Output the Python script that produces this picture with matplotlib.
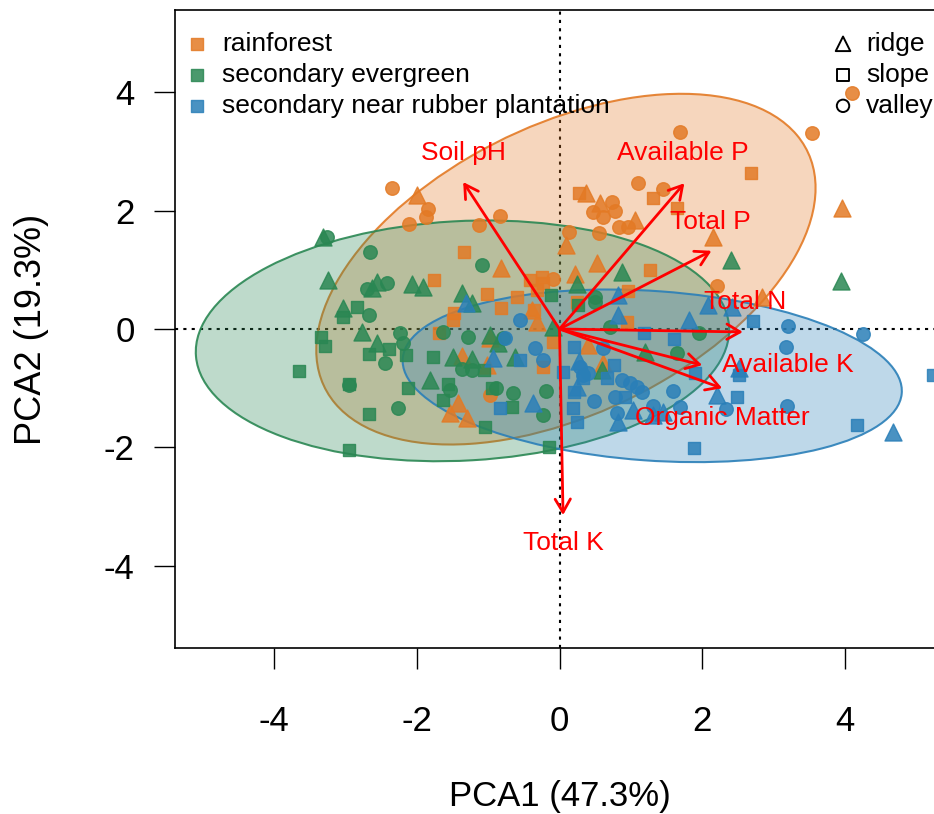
import matplotlib
matplotlib.use("Agg")
import matplotlib.pyplot as plt
from matplotlib.patches import Ellipse

plt.rcParams['font.family'] = ['Liberation Sans', 'DejaVu Sans']

# ---------------- data ----------------
groups = ['rainforest', 'secondary evergreen', 'secondary near rubber plantation']
group_colors = ['#E37A25', '#2A8753', '#2A7FB8']
sites = ['ridge', 'slope', 'valley']

# rainforest scores (PCA1, PCA2)
rf_ridge_pc1 = [-2.0, -0.82, 0.09, 0.37, 0.57, 1.06, 0.53, 0.22, -0.39, -0.32, 2.15, 3.96, 2.84,
                -1.37, -1.02, -1.42, -1.53, -1.30, -0.97, 0.40, 0.61]
rf_ridge_pc2 = [2.26, 1.03, 1.42, 2.30, 2.13, 1.84, 1.11, 0.93, 0.32, 0.12, 1.55, 2.04, 0.54,
                -0.46, -0.61, -1.25, -1.42, -1.50, -0.15, -0.27, -0.57]
rf_slope_pc1 = [0.27, 1.31, 1.65, 2.68, 1.27, 0.96, -0.24, -1.34, -1.76, -1.02, -0.60, -0.82,
                -1.48, -0.23, -0.32, -1.49, -0.42, 0.25, -0.36, 0.95, -1.69, -0.09, -0.23]
rf_slope_pc2 = [2.30, 2.21, 2.04, 2.63, 0.99, 0.64, 0.88, 1.30, 0.83, 0.59, 0.54, 0.35,
                0.27, 0.78, 0.66, 0.15, 0.83, 0.46, 0.32, 0.12, -0.07, -0.22, -0.64]
rf_valley_pc1 = [1.69, 3.54, 4.10, -2.35, -1.84, -1.87, -2.11, -1.13, -0.83, 0.13, -0.09, 1.10,
                 0.74, 0.78, 0.47, 0.61, 0.55, 0.83, 0.96, 1.45, 2.21, -0.97]
rf_valley_pc2 = [3.32, 3.31, 3.98, 2.38, 2.02, 1.89, 1.77, 1.76, 1.91, 1.64, 0.84, 2.46,
                 2.14, 1.99, 1.98, 1.89, 1.62, 1.72, 1.72, 2.36, 0.73, -1.11]

# secondary evergreen scores
se_ridge_pc1 = [-3.31, -3.24, -3.03, -2.77, -2.56, -2.56, -2.63, -2.07, -1.91, -1.37, -1.23, 0.25,
                0.88, 2.40, 3.95, -1.81, -1.49, -1.23, -0.97, -0.86, -0.62, -0.09, 1.20, 0.60]
se_ridge_pc2 = [1.56, 0.83, 0.35, -0.05, -0.24, 0.79, 0.69, 0.76, 0.71, 0.61, 0.44, 0.76,
                0.96, 1.16, 0.81, -0.86, -0.47, -0.51, -0.10, -0.24, -0.47, 0.03, -0.39, -0.69]
se_slope_pc1 = [-2.84, -3.03, -3.34, -3.29, -3.65, -2.95, -2.67, -2.67, -2.95, -2.39, -2.15, -2.12,
                -1.78, -1.56, -1.63, -1.04, -0.15, -1.06, -0.95, -0.12, 0.26, -0.67]
se_slope_pc2 = [0.37, 0.20, -0.14, -0.29, -0.71, -0.93, -0.42, -1.43, -2.04, -0.34, -0.44, -1.00,
                -0.47, -0.93, -1.20, -1.65, -1.99, -0.69, -1.00, 0.57, 0.41, -1.32]
se_valley_pc1 = [-3.26, -2.66, -2.70, -2.42, -2.67, -2.45, -2.95, -1.09, 0.50, -2.24, -2.19, -2.26,
                 -1.63, -1.28, -1.37, -1.23, -0.89, -0.65, -0.19, -0.23, -1.53, -0.79, 0.71,
                 1.65, 1.95, 0.50]
se_valley_pc2 = [1.56, 1.30, 0.67, 0.78, 0.24, -0.57, -0.95, 1.08, 0.54, -0.07, -0.24, -1.33,
                 -0.05, -0.13, -0.68, -0.69, -1.00, -1.08, -1.05, -1.45, -1.03, -0.15, 0.03,
                 -0.41, -0.07, 0.46]

# secondary near rubber plantation scores
sr_ridge_pc1 = [4.67, 2.52, 2.21, 1.81, 2.08, 2.42, 0.82, 0.82, -1.31, 0.28, 0.25, -0.93,
                -0.37, 1.03, 0.82, 1.31, 1.45]
sr_ridge_pc2 = [-1.74, -0.66, -1.11, 0.15, 0.41, 0.37, 0.24, 0.57, 0.44, -0.54, -0.98, -0.49,
                -1.25, -1.37, -1.57, -1.45, -1.40]
sr_slope_pc1 = [5.23, 2.71, 1.90, 2.49, 4.17, 1.89, 1.61, 1.19, 0.21, 0.77, 0.05, 0.66, 0.20,
                0.19, 0.25, 0.92, 2.52, -0.83, -0.55, 0.33]
sr_slope_pc2 = [-0.78, 0.14, -0.74, -1.14, -1.62, -2.01, -0.17, -0.07, -0.31, -0.61, -0.73, -0.83,
                -1.07, -1.33, -1.57, -1.15, -0.78, -1.33, -0.52, -0.83]
sr_valley_pc1 = [3.21, 4.25, 3.17, 3.19, 2.33, 1.59, 1.69, 0.88, 0.99, 1.08, 1.16, 0.78, 0.48,
                 1.31, 0.81, 0.61, -0.23, -0.76, -0.34, 0.33, 0.29, -0.55, 0.40]
sr_valley_pc2 = [0.05, -0.08, -0.30, -1.30, -1.35, -1.05, -1.32, -0.86, -0.91, -0.98, -1.06, -1.14,
                 -1.22, -1.30, -1.41, -0.32, -0.52, -0.15, -0.32, -0.78, -0.64, 0.15, -0.74]

scores = {
    'rainforest': {'ridge': (rf_ridge_pc1, rf_ridge_pc2),
                   'slope': (rf_slope_pc1, rf_slope_pc2),
                   'valley': (rf_valley_pc1, rf_valley_pc2)},
    'secondary evergreen': {'ridge': (se_ridge_pc1, se_ridge_pc2),
                            'slope': (se_slope_pc1, se_slope_pc2),
                            'valley': (se_valley_pc1, se_valley_pc2)},
    'secondary near rubber plantation': {'ridge': (sr_ridge_pc1, sr_ridge_pc2),
                                         'slope': (sr_slope_pc1, sr_slope_pc2),
                                         'valley': (sr_valley_pc1, sr_valley_pc2)},
}

# confidence ellipses per group: centre, full axes lengths, rotation (deg)
ell_cx = [0.09, -1.36, 1.30]
ell_cy = [1.01, -0.20, -0.79]
ell_width = [7.90, 7.49, 7.02]
ell_height = [4.65, 4.04, 2.86]
ell_angle = [35, 4, -5]

# variable loadings (arrow tips) and their label positions
variables = ['Soil pH', 'Available P', 'Total P', 'Total N', 'Available K', 'Organic Matter', 'Total K']
load_pc1 = [-1.35, 1.75, 2.13, 2.57, 2.00, 2.28, 0.05]
load_pc2 = [2.48, 2.46, 1.32, -0.05, -0.61, -1.00, -3.14]
label_pc1 = [-1.34, 1.73, 2.11, 2.60, 3.20, 2.28, 0.05]
label_pc2 = [2.97, 2.97, 1.81, 0.46, -0.61, -1.50, -3.61]

xticks = [-4, -2, 0, 2, 4]
yticks = [-4, -2, 0, 2, 4]

# ---------------- figure ----------------
site_marker = {'ridge': '^', 'slope': 's', 'valley': 'o'}
site_size = {'ridge': 150, 'slope': 85, 'valley': 95}

fig = plt.figure(figsize=(9.34, 8.14), dpi=100)
ax = fig.add_axes([175 / 934, 1 - 648 / 814, 769 / 934, 638 / 814])
ax.set_xlim(-5.39, 5.39)
ax.set_ylim(-5.384, 5.384)

ax.axhline(0, color='black', linestyle=(0, (1.5, 2.5)), linewidth=1.5, zorder=1)
ax.axvline(0, color='black', linestyle=(0, (1.5, 2.5)), linewidth=1.5, zorder=1)

for i, g in enumerate(groups):
    c = group_colors[i]
    ax.add_patch(Ellipse((ell_cx[i], ell_cy[i]), ell_width[i], ell_height[i], angle=ell_angle[i],
                         facecolor=c, alpha=0.3, edgecolor='none', zorder=2))
    ax.add_patch(Ellipse((ell_cx[i], ell_cy[i]), ell_width[i], ell_height[i], angle=ell_angle[i],
                         facecolor='none', edgecolor=c, linewidth=1.5, alpha=0.9, zorder=2))

for i, g in enumerate(groups):
    c = group_colors[i]
    for s in sites:
        px, py = scores[g][s]
        ax.scatter(px, py, marker=site_marker[s], s=site_size[s], color=c, alpha=0.85,
                   edgecolors=c, linewidths=1.0, zorder=3)

for name, x1, y1, lx, ly in zip(variables, load_pc1, load_pc2, label_pc1, label_pc2):
    ax.annotate('', xy=(x1, y1), xytext=(0, 0),
                arrowprops=dict(arrowstyle='->,head_length=0.95,head_width=0.55',
                                color='red', linewidth=2.0, shrinkA=0, shrinkB=0,
                                mutation_scale=10),
                zorder=4)
    ax.text(lx, ly, name, color='red', fontsize=19, ha='center', va='center', zorder=5)

# group legend (filled squares)
leg_rows = [0.9470, 0.8984, 0.8498]
for i, g in enumerate(groups):
    ax.scatter([0.0286], [leg_rows[i]], transform=ax.transAxes, marker='s', s=75,
               color=group_colors[i], alpha=0.85, edgecolors=group_colors[i],
               linewidths=1.0, clip_on=False, zorder=6)
    ax.text(0.0611, leg_rows[i], g, transform=ax.transAxes, fontsize=19,
            ha='left', va='center', zorder=6)

# site legend (open symbols)
site_leg_size = {'ridge': 110, 'slope': 70, 'valley': 80}
for i, s in enumerate(sites):
    ax.scatter([0.8687], [leg_rows[i]], transform=ax.transAxes, marker=site_marker[s],
               s=site_leg_size[s], facecolors='none', edgecolors='black', linewidths=1.4,
               clip_on=False, zorder=6)
    ax.text(0.8986, leg_rows[i], s, transform=ax.transAxes, fontsize=19,
            ha='left', va='center', zorder=6)

for side in ['top', 'bottom', 'left', 'right']:
    ax.spines[side].set_linewidth(1.2)

ax.set_xticks(xticks)
ax.set_yticks(yticks)
ax.set_xticklabels([str(t) for t in xticks])
ax.set_yticklabels([str(t) for t in yticks])
ax.tick_params(axis='both', direction='out', length=15, width=1.0, labelsize=25)
ax.tick_params(axis='x', pad=26)
ax.tick_params(axis='y', pad=14)

ax.set_xlabel('PCA1 (47.3%)', fontsize=25)
ax.set_ylabel('PCA2 (19.3%)', fontsize=26)
ax.xaxis.set_label_coords(0.5, -0.2335)
ax.xaxis.label.set_va('center')
ax.yaxis.set_label_coords(-0.186, 0.5)
ax.yaxis.label.set_va('center')

fig.savefig('out.png', dpi=100)
